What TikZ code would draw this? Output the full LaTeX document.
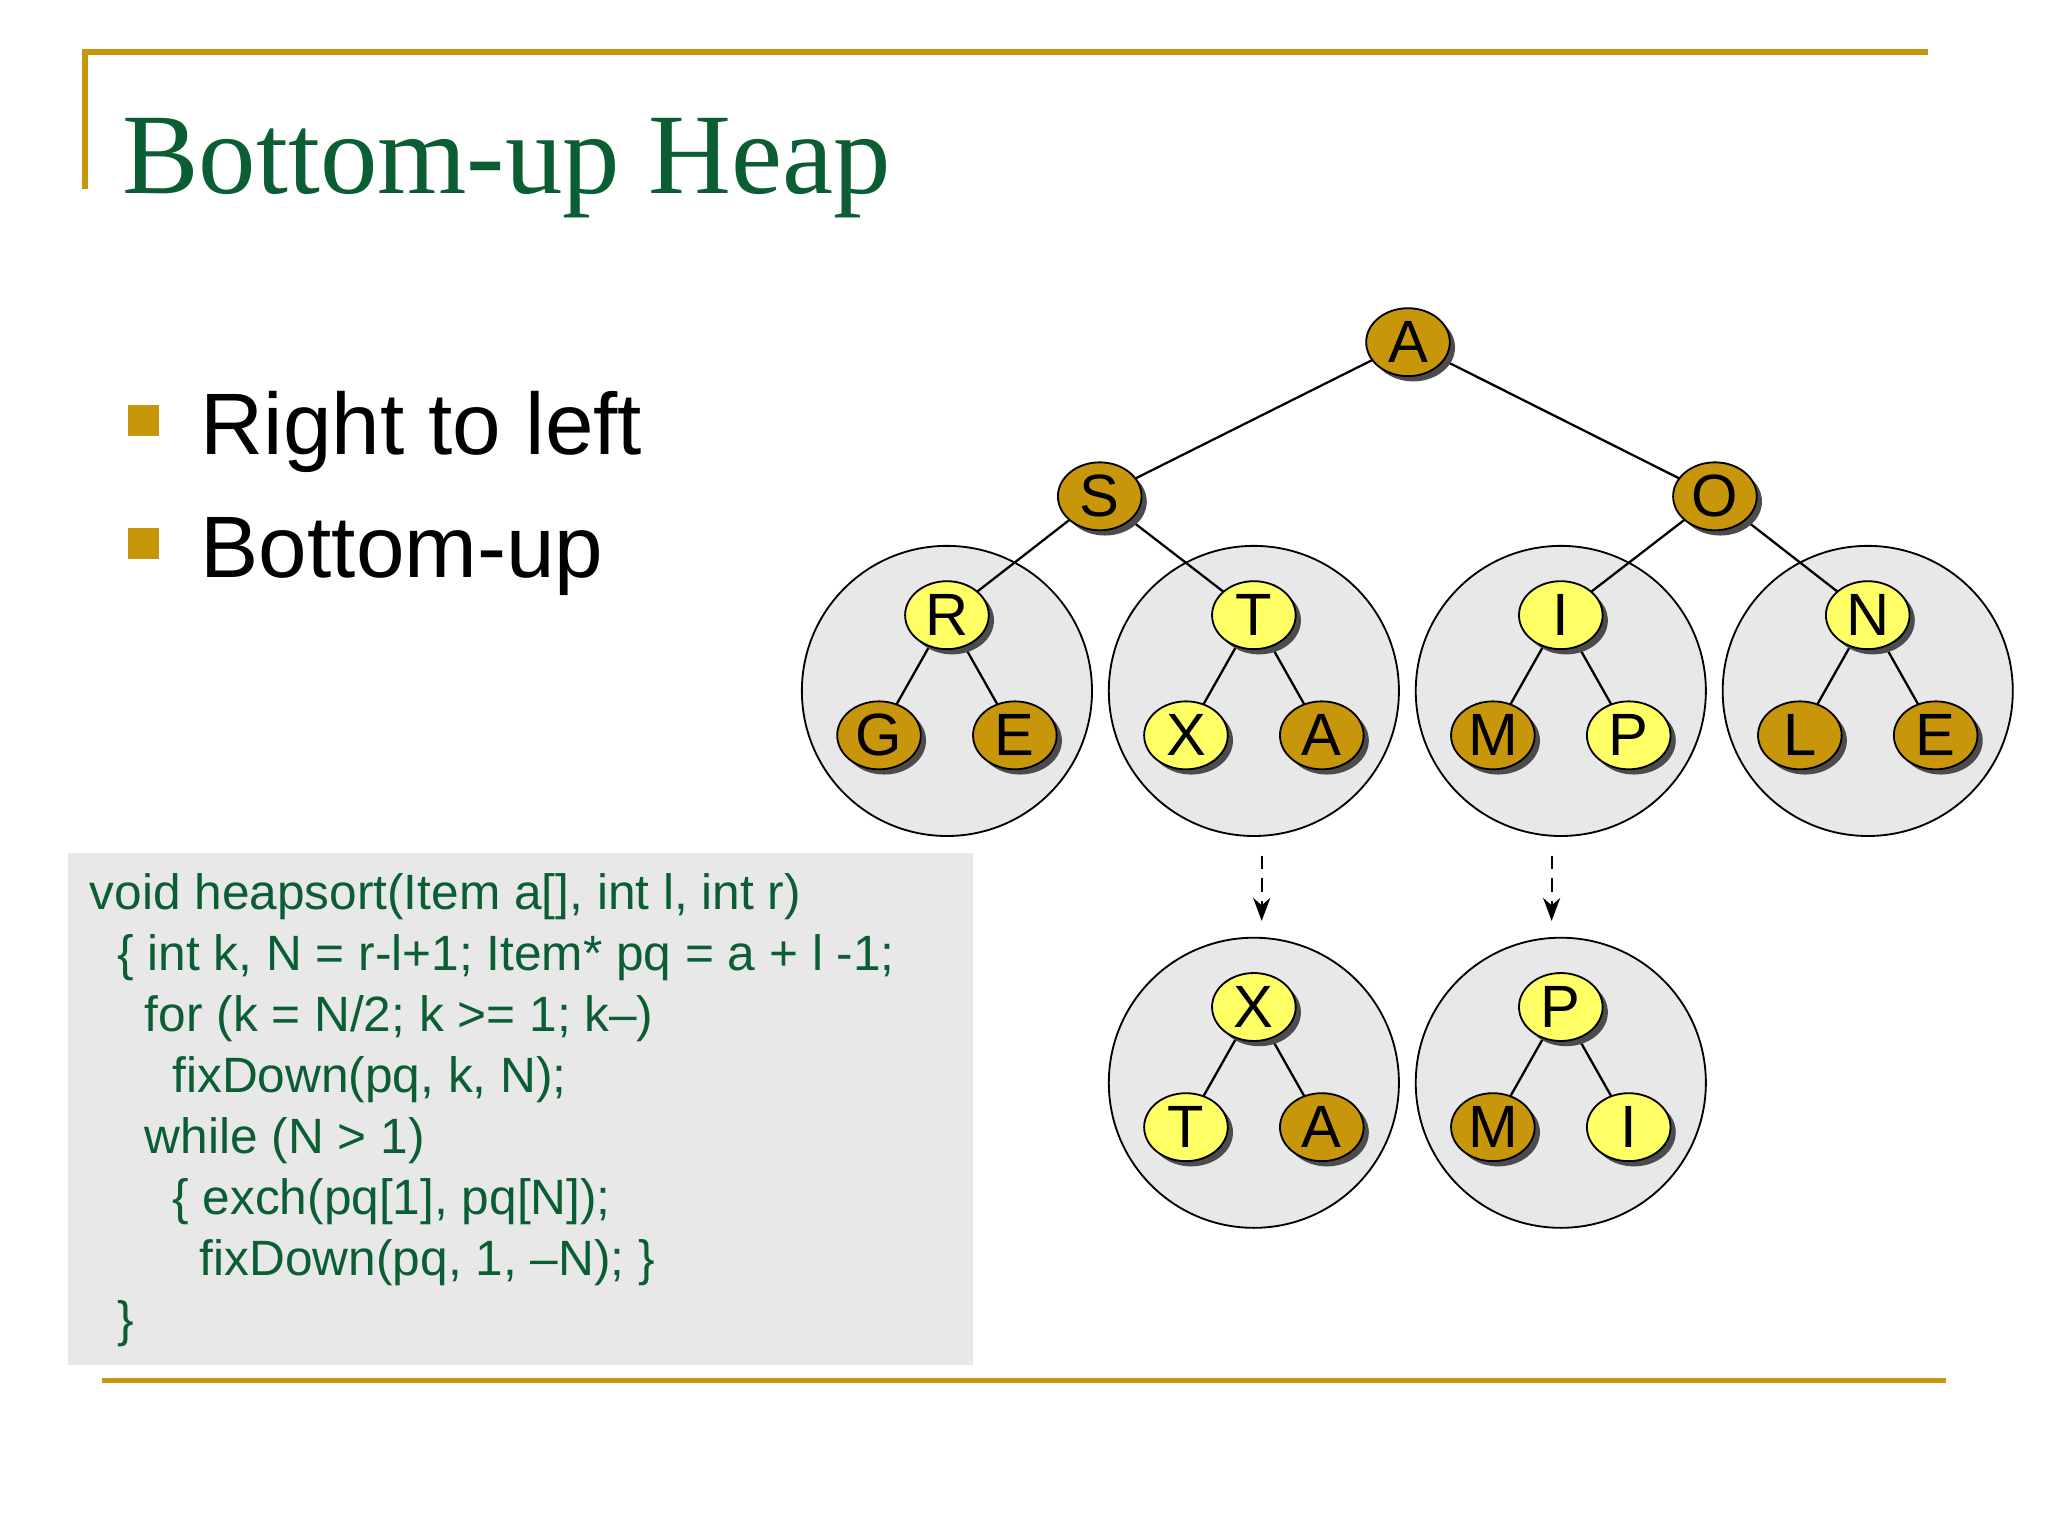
\documentclass[tikz,border=0pt]{standalone}
\usepackage{fontspec}
\setmainfont{Liberation Sans}
\newfontfamily\titlefont{Liberation Serif}
\usetikzlibrary{shadows,arrows.meta,shapes.geometric}
\definecolor{gold}{HTML}{C8960A}
\definecolor{ylw}{HTML}{FFFF66}
\definecolor{grn}{HTML}{0B5E34}
\definecolor{bg}{HTML}{E8E8E8}
\tikzset{
 hn/.style={ellipse, draw=black, minimum width=0.64cm, minimum height=0.52cm, inner sep=0pt, font=\fontsize{13}{13}\selectfont, drop shadow={shadow xshift=0.04cm, shadow yshift=-0.04cm, fill=black!70, opacity=1}},
 dk/.style={hn, fill=gold},
 lt/.style={hn, fill=ylw},
 big/.style={circle, draw=black, fill=bg, minimum size=2.22cm, inner sep=0pt},
 ed/.style={draw=black, line width=0.5pt}
}
\begin{document}
\begin{tikzpicture}[x=0.01cm,y=-0.01cm]
\useasboundingbox (0,0) rectangle (1568,1176);
\fill[white] (0,0) rectangle (1568,1176);
\draw[gold, line width=1.2pt] (65,145) -- (65,40) -- (1476,40);
\draw[gold, line width=1.2pt] (78,1057) -- (1490,1057);
\node[anchor=base west, text=grn, font=\titlefont\fontsize{25}{25}\selectfont, inner sep=0] (title) at (93,148) {Bottom-up Heap};
\fill[gold] (98,310) rectangle (122,334);
\fill[gold] (98,404) rectangle (122,428);
\node[anchor=base west, font=\fontsize{19}{19}\selectfont, inner sep=0] (b1) at (153,348) {Right to left};
\node[anchor=base west, font=\fontsize{19}{19}\selectfont, inner sep=0] (b2) at (153,442) {Bottom-up};
\fill[bg] (52,653) rectangle (745,1045);
\node[anchor=north west, text=grn, font=\fontsize{10.8}{13.3}\selectfont, align=left, inner sep=0] (code) at (68,668) {%
void heapsort(Item a[], int l, int r)\\
\hspace*{6pt}\{ int k, N = r-l+1; Item* pq = a + l -1;\\
\hspace*{12pt}for (k = N/2; k >= 1; k--)\\
\hspace*{18pt}fixDown(pq, k, N);\\
\hspace*{12pt}while (N > 1)\\
\hspace*{18pt}\{ exch(pq[1], pq[N]);\\
\hspace*{24pt}fixDown(pq, 1, --N); \}\\
\hspace*{6pt}\}};
% big circles
\node[big] (c1) at (725,529) {};
\node[big] (c2) at (960,529) {};
\node[big] (c3) at (1195,529) {};
\node[big] (c4) at (1430,529) {};
\node[big] (c5) at (960,829) {};
\node[big] (c6) at (1195,829) {};
% coordinates
\coordinate (pA) at (1078,262);
\coordinate (pS) at (842,380); \coordinate (pO) at (1313,380);
\coordinate (pR) at (725,471); \coordinate (pT) at (960,471);
\coordinate (pI) at (1195,471); \coordinate (pN) at (1430,471);
\coordinate (pG) at (673,563); \coordinate (pE) at (777,563);
\coordinate (pX) at (908,563); \coordinate (pA2) at (1012,563);
\coordinate (pM) at (1143,563); \coordinate (pP) at (1247,563);
\coordinate (pL) at (1378,563); \coordinate (pE2) at (1482,563);
\coordinate (qX) at (960,771); \coordinate (qT) at (908,863); \coordinate (qA) at (1012,863);
\coordinate (qP) at (1195,771); \coordinate (qM) at (1143,863); \coordinate (qI) at (1247,863);
\foreach \a/\b in {pA/pS,pA/pO,pS/pR,pS/pT,pO/pI,pO/pN,pR/pG,pR/pE,pT/pX,pT/pA2,pI/pM,pI/pP,pN/pL,pN/pE2,qX/qT,qX/qA,qP/qM,qP/qI}
 \draw[ed] (\a) -- (\b);
\node[dk] (nA) at (pA) {A};
\node[dk] (nS) at (pS) {S};
\node[dk] (nO) at (pO) {O};
\node[lt] (nR) at (pR) {R};
\node[lt] (nT) at (pT) {T};
\node[lt] (nI) at (pI) {I};
\node[lt] (nN) at (pN) {N};
\node[dk] (nG) at (pG) {G};
\node[dk] (nE) at (pE) {E};
\node[lt] (nX) at (pX) {X};
\node[dk] (nA2) at (pA2) {A};
\node[dk] (nM) at (pM) {M};
\node[lt] (nP) at (pP) {P};
\node[dk] (nL) at (pL) {L};
\node[dk] (nE2) at (pE2) {E};
\node[lt] (mX) at (qX) {X};
\node[lt] (mT) at (qT) {T};
\node[dk] (mA) at (qA) {A};
\node[lt] (mP) at (qP) {P};
\node[dk] (mM) at (qM) {M};
\node[lt] (mI) at (qI) {I};
\coordinate (d1a) at (966,655); \coordinate (d1b) at (966,705);
\coordinate (d2a) at (1188,655); \coordinate (d2b) at (1188,705);
\draw[densely dashed, -{Stealth[length=5pt]}] (d1a) -- (d1b);
\draw[densely dashed, -{Stealth[length=5pt]}] (d2a) -- (d2b);
\end{tikzpicture}
\end{document}
